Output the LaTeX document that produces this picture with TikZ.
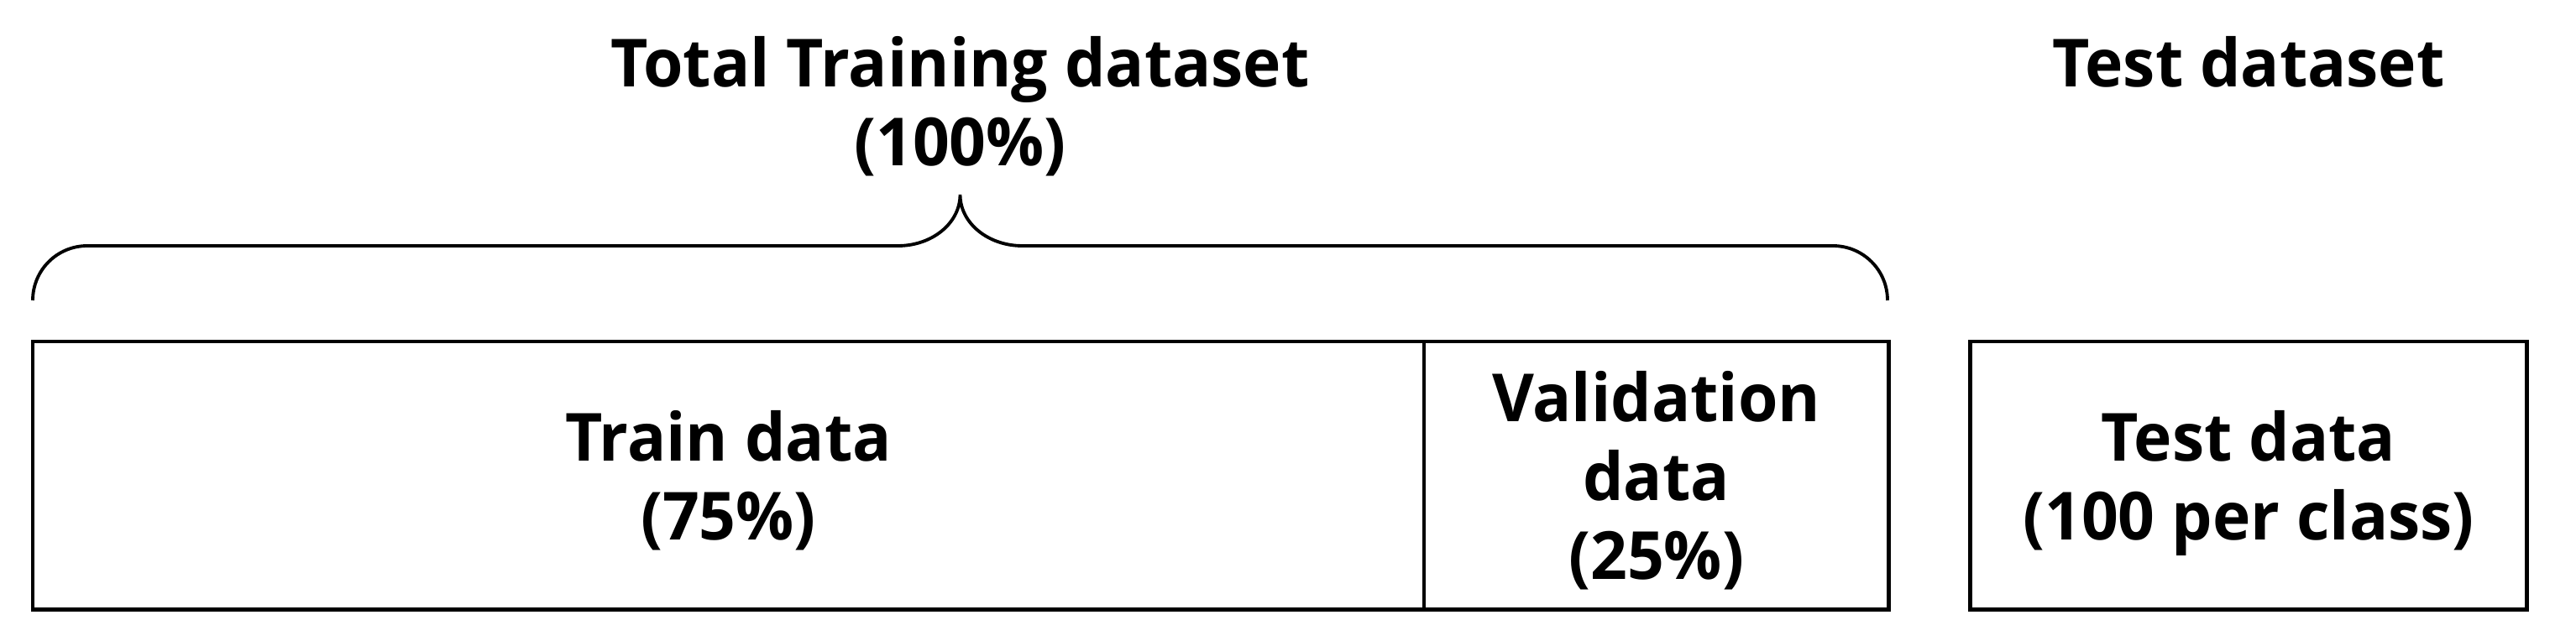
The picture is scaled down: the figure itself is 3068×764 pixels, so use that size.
\documentclass[tikz,border=0pt]{standalone}
\usepackage{fontspec}
\setmainfont{Open Sans}[FakeStretch=0.97]
\usetikzlibrary{positioning}

\begin{document}
\begin{tikzpicture}[x=0.01cm, y=-0.01cm]
\tikzstyle{mytext} = [font=\fontsize{22.5}{26.8}\selectfont\bfseries, align=center]
\tikzstyle{mybox} = [mytext, draw, line width=0.9pt, inner sep=0pt, outer sep=0pt, minimum height=3.19cm, text depth=0pt]
\tikzstyle{mytitle} = [mytext, inner sep=0pt]
\tikzstyle{mybrace} = [line width=1.1pt]
\useasboundingbox (0,0) rectangle (3068,764);

% the three parts of the data
\node[mybox, anchor=north west, minimum width=16.56cm] (train) at (39,407) {Train data\\(75\%)};
\node[mybox, right=0pt of train, minimum width=5.53cm] (valid) {Validation\\data\\(25\%)};
\node[mybox, right=0.97cm of valid, minimum width=6.63cm, line width=1.4pt] (test) {Test data\\(100 per class)};
\draw[line width=1.4pt] (train.north west) rectangle (valid.south east);

% brace over train + validation
\coordinate (bl) at (39,358);
\coordinate (br) at (2248,358);
\coordinate (tip) at (1143.5,232);
\draw[mybrace] (bl) .. controls (39,322) and (68,293) .. (104,293) -- (1069.5,293)
  .. controls (1110,293) and (1143.5,266) .. (tip)
  .. controls (1143.5,266) and (1177,293) .. (1217.5,293) -- (2183,293)
  .. controls (2219,293) and (2248,322) .. (br);

\node[mytitle, above=0.21cm of tip] (total) {Total Training dataset\\(100\%)};
\node[mytitle, anchor=north] (testset) at (test.north |- total.north) {Test dataset};
\end{tikzpicture}
\end{document}
